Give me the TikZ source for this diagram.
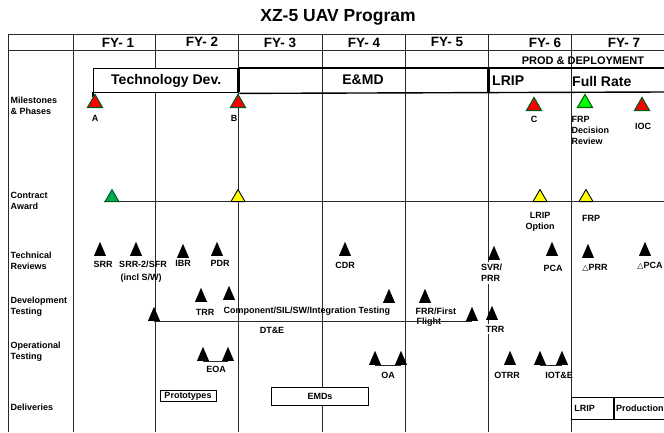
\documentclass[tikz,border=0pt]{standalone}
\usepackage{fontspec}
\setmainfont{Liberation Sans}
\newfontfamily\symfont{DejaVu Sans}
\usetikzlibrary{shapes.geometric,positioning}
\definecolor{MileRed}{RGB}{255,0,0}
\definecolor{MileGreen}{RGB}{0,255,0}
\definecolor{AwardGreen}{RGB}{0,168,80}
\definecolor{AwardYellow}{RGB}{255,255,0}
\definecolor{EdgeGreen}{RGB}{0,90,30}
\definecolor{GridClr}{RGB}{40,40,40}

\tikzset{
  grid line/.style={draw=GridClr,line width=0.9pt},
  bar line/.style={draw=black,line width=1.4pt},
  phase cut/.style={draw=black,line width=3pt},
  tri/.style={isosceles triangle,isosceles triangle stretches,shape border rotate=90,inner sep=0pt,anchor=lower side},
  mstone/.style={tri,minimum width=15pt,minimum height=13pt,draw=EdgeGreen,line width=1.1pt,fill=MileRed},
  award/.style={tri,minimum width=14pt,minimum height=12pt,draw=black,line width=0.9pt,fill=AwardYellow},
  event/.style={tri,minimum width=12pt,minimum height=14pt,fill=black},
  lbl/.style={font=\bfseries\fontsize{9}{11}\selectfont,inner sep=0.5pt},
  rowlbl/.style={lbl,align=left,anchor=west},
  fylbl/.style={font=\bfseries\fontsize{13.5}{15}\selectfont,inner sep=0pt},
  phaselbl/.style={font=\bfseries\fontsize{14}{16}\selectfont,inner sep=1pt},
  dlvbox/.style={lbl,draw=black,line width=0.8pt,inner sep=1pt},
}

\begin{document}
\begin{tikzpicture}[x=1pt,y=-1pt]
\useasboundingbox (0,0) rectangle (664,432);

\node[font=\bfseries\fontsize{17.5}{20}\selectfont] (title) at (338,17) {XZ-5 UAV Program};

\draw[grid line] (8,34) -- (664,34);
\draw[grid line] (8,50) -- (664,50);
\draw[grid line] (8,34) -- (8,432);
\draw[grid line] (73,34) -- (73,432);
\draw[grid line] (155,34) -- (155,432);
\draw[grid line] (238,34) -- (238,432);
\draw[grid line] (322,34) -- (322,432);
\draw[grid line] (405,34) -- (405,432);
\draw[grid line] (488,34) -- (488,432);
\draw[grid line] (571,34) -- (571,432);

\node[fylbl] (fy1) at (118,43) {FY- 1};
\node[fylbl] (fy2) at (202,42) {FY- 2};
\node[fylbl] (fy3) at (280,43) {FY- 3};
\node[fylbl] (fy4) at (364,43) {FY- 4};
\node[fylbl] (fy5) at (447,42) {FY- 5};
\node[fylbl] (fy6) at (545,43) {FY- 6};
\node[fylbl] (fy7) at (624,43) {FY- 7};

\node[font=\bfseries\fontsize{11}{12}\selectfont] (prod) at (583,61) {PROD \& DEPLOYMENT};

\node[bar line,fill=white,minimum width=145pt,minimum height=24pt,anchor=north west,inner sep=0pt] (tdev) at (93,68) {};
\node[phaselbl] at (tdev) {Technology Dev.};
\draw[bar line] (tdev.north east) -- (664,68);
\draw[bar line] (tdev.south east) -- (664,92);
\draw[bar line] (93,92) -- (93,97);
\draw[phase cut] (238,68) -- (238,92);
\draw[phase cut] (488,68) -- (488,92);
\node[phaselbl] (emd) at (363,80) {E\&MD};
\node[phaselbl,anchor=west] (lrip) at (491,81) {LRIP};
\node[phaselbl,anchor=west] (frate) at (571,81) {Full Rate};

\node[rowlbl] (rMile) at (10,105.5) {Milestones\\\& Phases};
\node[rowlbl] (rAward) at (10,200.5) {Contract\\Award};
\node[rowlbl] (rTech) at (10,260.5) {Technical\\Reviews};
\node[rowlbl] (rDev) at (10,306.5) {Development\\Testing};
\node[rowlbl] (rOper) at (10,351.5) {Operational\\Testing};
\node[rowlbl] (rDlv) at (10,407) {Deliveries};

\node[mstone] (msA) at (95,108) {};
\node[mstone] (msB) at (238,108) {};
\node[mstone] (msC) at (534,111) {};
\node[mstone,fill=MileGreen,draw=black!60!green] (msFRP) at (585,108) {};
\node[mstone] (msIOC) at (642,111) {};
\node[lbl] at (95,118) {A};
\node[lbl] at (234,118) {B};
\node[lbl] at (534,119) {C};
\node[lbl,align=left,anchor=north west] at (571,116) {FRP\\Decision\\Review};
\node[lbl] at (643,126) {IOC};

\coordinate (awS) at (104,201);
\coordinate (awE) at (664,201);
\draw[grid line] (awS) -- (awE);
\node[award,fill=AwardGreen,draw=AwardGreen!50!black] (awA) at (112,202) {};
\node[award] (awB) at (238,202) {};
\node[award] (awLRIP) at (540,202) {};
\node[award] (awFRP) at (586,202) {};
\node[lbl,align=center,anchor=north] at (540,212) {LRIP\\Option};
\node[lbl] at (591,218) {FRP};

\node[event] (srr) at (100,256) {};
\node[event] (sfr) at (136,256) {};
\node[event] (ibr) at (183,258) {};
\node[event] (pdr) at (217,256) {};
\node[event] (cdr) at (345,256) {};
\node[event] (svr) at (494,260) {};
\node[event] (pca) at (552,256) {};
\node[event] (dprr) at (588,258) {};
\node[event] (dpca) at (645,256) {};
\node[lbl] at (103,264) {SRR};
\node[lbl] at (143,264) {SRR-2/SFR};
\node[lbl,anchor=west] at (120,278) {(incl S/W)};
\node[lbl] at (183,263) {IBR};
\node[lbl] at (220,263) {PDR};
\node[lbl] at (345,265) {CDR};
\node[lbl,fill=white,align=left,anchor=north west,inner xsep=4pt,inner ysep=2pt] at (477,262) {SVR/\\PRR};
\node[lbl] at (553,268) {PCA};
\node[lbl] at (595,268) {{\symfont\fontsize{8}{8}\selectfont △}PRR};
\node[lbl] at (650,266) {{\symfont\fontsize{8}{8}\selectfont △}PCA};

\node[event] (dtS) at (154,321) {};
\node[event] (dtE) at (472,321) {};
\node[lbl] at (272,330) {DT\&E};
\node[lbl,anchor=west] at (415,311) {FRR/First};
\node[lbl,anchor=west] at (416,322) {Flight};
\draw[grid line] (dtS.lower side) -- (dtE.lower side);
\node[event] (trr) at (201,302) {};
\node[event] (comp) at (229,300) {};
\node[event] (integ) at (389,303) {};
\node[event] (frr) at (425,303) {};
\node[event] (trrB) at (492,320) {};
\node[lbl] at (205,312) {TRR};
\node[lbl,anchor=west] at (223,311) {Component/SIL/SW/Integration Testing};
\node[lbl,fill=white,inner xsep=4pt,inner ysep=2pt] at (495,329) {TRR};

\node[event] (eoaA) at (203,361) {};
\node[event] (eoaB) at (228,361) {};
\draw[grid line] (eoaA.lower side) -- (eoaB.lower side);
\node[lbl] at (216,369) {EOA};
\node[event] (oaA) at (375,365) {};
\node[event] (oaB) at (401,365) {};
\draw[grid line] (oaA.lower side) -- (oaB.lower side);
\node[lbl] at (388,375) {OA};
\node[event] (otrr) at (510,365) {};
\node[lbl] at (507,375) {OTRR};
\node[event] (ioteA) at (540,365) {};
\node[event] (ioteB) at (562,365) {};
\draw[grid line] (ioteA.lower side) -- (ioteB.lower side);
\node[lbl] at (559,375) {IOT\&E};

\node[dlvbox,minimum width=56pt,minimum height=11pt] (proto) at (188,396) {Prototypes};
\node[dlvbox,fill=white,minimum width=97pt,minimum height=18pt] (emds) at (320,396) {EMDs};
\node[dlvbox,fill=white,anchor=west,text width=36pt,minimum height=22pt,inner xsep=3pt] (dlrip) at (571,408) {LRIP};
\node[dlvbox,fill=white,anchor=west,text width=60pt,minimum height=22pt,inner xsep=2pt] (dprod) at (dlrip.east) {Production};
\end{tikzpicture}
\end{document}
